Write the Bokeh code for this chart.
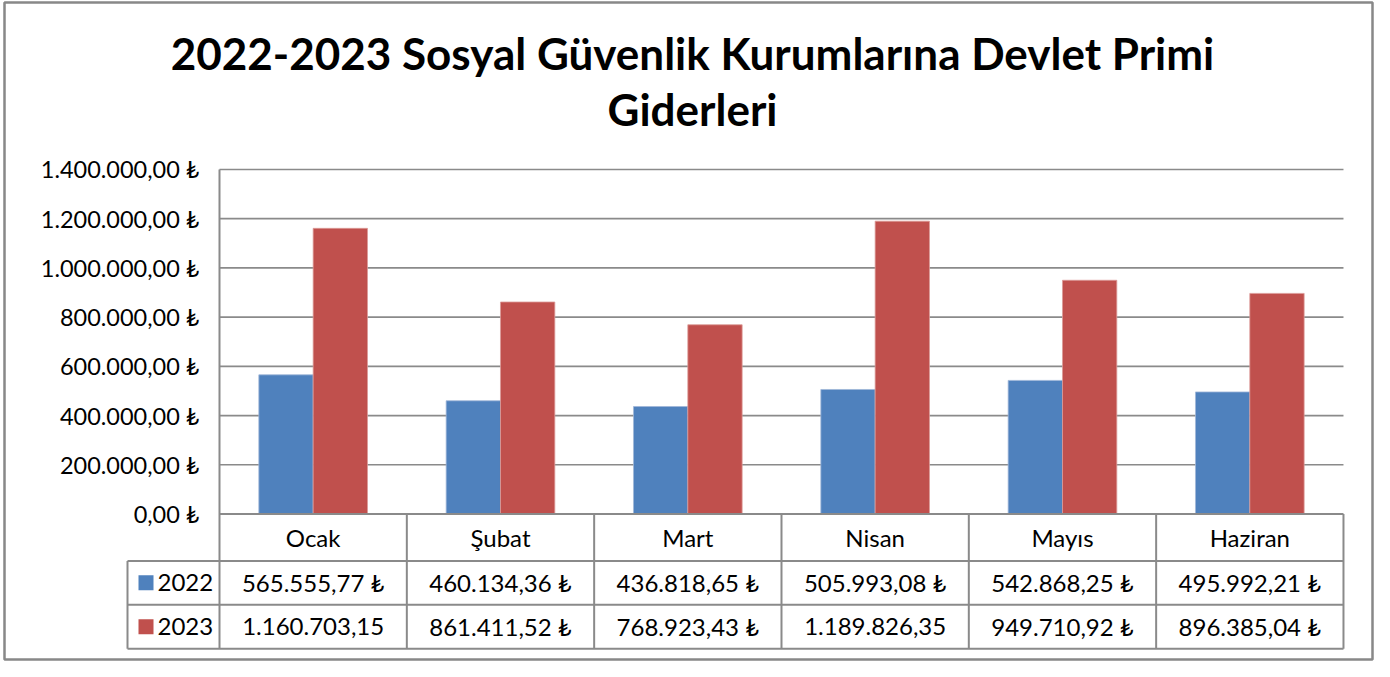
from bokeh.plotting import figure
from bokeh.models import Range1d, LinearAxis, FixedTicker, CustomJSTickFormatter, Label
from bokeh.embed import file_html
from bokeh.resources import INLINE
from bokeh.core.properties import value

# ---------------- data ----------------
title_lines = ["2022-2023 Sosyal Güvenlik Kurumlarına Devlet Primi", "Giderleri"]
months = ["Ocak", "Şubat", "Mart", "Nisan", "Mayıs", "Haziran"]
series_names = ["2022", "2023"]
values_2022 = [565555.77, 460134.36, 436818.65, 505993.08, 542868.25, 495992.21]
values_2023 = [1160703.15, 861411.52, 768923.43, 1189826.35, 949710.92, 896385.04]
y_ticks = [0, 200000, 400000, 600000, 800000, 1000000, 1200000, 1400000]

COL_BLUE = "#4F81BD"
COL_RED = "#C0504D"
LINE = "#8a8a8a"
FONT = "Lato"


def fmt_tl(v):
    s = f"{v:,.2f}".replace(",", "X").replace(".", ",").replace("X", ".")
    # cells too narrow for the currency sign in the reference (>= 1 million)
    return s if v >= 1000000 else s + " \u20ba"


table_2022 = [fmt_tl(v) for v in values_2022]
table_2023 = [fmt_tl(v) for v in values_2023]

# ---------------- layout geometry (pixels) ----------------
W, H = 1374, 661
MB_L, MB_R, MB_T, MB_B = 4, 2, 2, 2
CAT_W = 187.33              # px per category
PLOT_LEFT = 219             # fig px of plot-area left edge
PLOT_RIGHT = PLOT_LEFT + 6 * CAT_W
S = (H - MB_T - MB_B) / 673.0


def ry(ref_y):
    return MB_T + (ref_y - 2) * S


Y_TOP, Y_ZERO = ry(173), ry(526)
ROW1, ROW2, ROW3 = ry(574), ry(619), ry(664)
LEG_LEFT = -0.5 - 92 / CAT_W

k = 1400000 / (Y_ZERO - Y_TOP)
y_start = -((H - MB_B) - Y_ZERO) * k
y_end = 1400000 + (Y_TOP - MB_T) * k
x_start = -0.5 - (PLOT_LEFT - MB_L) / CAT_W
x_end = 5.5 + ((W - MB_R) - PLOT_RIGHT) / CAT_W

p = figure(width=W, height=H, output_backend="svg", toolbar_location=None,
           x_range=Range1d(x_start, x_end), y_range=Range1d(y_start, y_end),
           x_axis_location=None, y_axis_location=None,
           min_border_left=MB_L, min_border_right=MB_R, min_border_top=MB_T, min_border_bottom=MB_B)
p.extra_y_ranges = {"px": Range1d(start=H - MB_B, end=MB_T)}
p.xgrid.visible = False
p.ygrid.visible = False
p.outline_line_color = "#888888"
p.outline_line_width = 2.5
p.background_fill_color = "white"
p.border_fill_color = "white"

# y axis
yaxis = LinearAxis(fixed_location=-0.5, bounds=(0, 1400000),
                   ticker=FixedTicker(ticks=y_ticks),
                   formatter=CustomJSTickFormatter(code="""
const s = tick.toFixed(2);
let parts = s.split('.');
let i = parts[0].replace(/\\B(?=(\\d{3})+(?!\\d))/g, '.');
return i + ',' + parts[1] + ' \\u20ba';
"""))
yaxis.axis_line_color = None
yaxis.major_tick_line_color = None
yaxis.minor_tick_line_color = None
yaxis.major_label_standoff = 14
yaxis.major_label_text_font = FONT
yaxis.major_label_text_font_size = "23.5px"
yaxis.major_label_text_color = "black"
p.add_layout(yaxis, "left")

# gridlines
grid_vals = y_ticks[1:]
p.segment(x0=[-0.5] * len(grid_vals), x1=[5.5] * len(grid_vals), y0=grid_vals, y1=grid_vals,
          line_color=LINE, line_width=1.6)

# bars
xs = list(range(len(months)))
p.vbar(x=[x - 0.145 for x in xs], top=values_2022, bottom=0, width=0.29,
       fill_color=COL_BLUE, line_color="#9fb6d8", line_width=0.8)
p.vbar(x=[x + 0.145 for x in xs], top=values_2023, bottom=0, width=0.29,
       fill_color=COL_RED, line_color="#dc9a98", line_width=0.8)

# table lines
h_y = [Y_ZERO, ROW1, ROW2, ROW3]
h_x0 = [-0.5, LEG_LEFT, LEG_LEFT, LEG_LEFT]
p.segment(x0=h_x0, x1=[5.5] * 4, y0=h_y, y1=h_y, line_color=LINE, line_width=2, y_range_name="px")
v_x = [-0.5] + [i + 0.5 for i in range(6)] + [LEG_LEFT]
v_y0 = [Y_TOP] + [Y_ZERO] * 6 + [ROW1]
p.segment(x0=v_x, x1=v_x, y0=v_y0, y1=[ROW3] * len(v_x), line_color=LINE, line_width=2,
          y_range_name="px")

# table text
fs = value("24px")
p.text(x=xs, y=[(Y_ZERO + ROW1) / 2] * 6, text=months, text_font=value(FONT), text_font_size=fs,
       text_align="center", text_baseline="middle", y_range_name="px", text_color="black")
p.text(x=xs, y=[(ROW1 + ROW2) / 2] * 6, text=table_2022, text_font=value(FONT), text_font_size=fs,
       text_align="center", text_baseline="middle", y_range_name="px", text_color="black")
p.text(x=xs, y=[(ROW2 + ROW3) / 2] * 6, text=table_2023, text_font=value(FONT), text_font_size=fs,
       text_align="center", text_baseline="middle", y_range_name="px", text_color="black")

# legend keys in table
key_x = -0.5 - (219 - 145.5) / CAT_W
txt_x = -0.5 - (219 - 157) / CAT_W
row_c = [(ROW1 + ROW2) / 2, (ROW2 + ROW3) / 2]
p.scatter(x=[key_x] * 2, y=row_c, marker="square", size=15, fill_color=[COL_BLUE, COL_RED],
          line_color=None, y_range_name="px")
p.text(x=[txt_x] * 2, y=row_c, text=series_names, text_font=value(FONT), text_font_size=fs,
       text_align="left", text_baseline="middle", y_range_name="px", text_color="black")

# title
title_x = 688
for t, cy in zip(title_lines, [ry(54), ry(111)]):
    p.add_layout(Label(x=title_x, x_units="screen", y=cy, y_range_name="px", text=t,
                       text_font=FONT, text_font_style="bold", text_font_size="44px",
                       text_align="center", text_baseline="middle", text_color="black"))

open("out.html", "w").write(file_html(p, INLINE))
